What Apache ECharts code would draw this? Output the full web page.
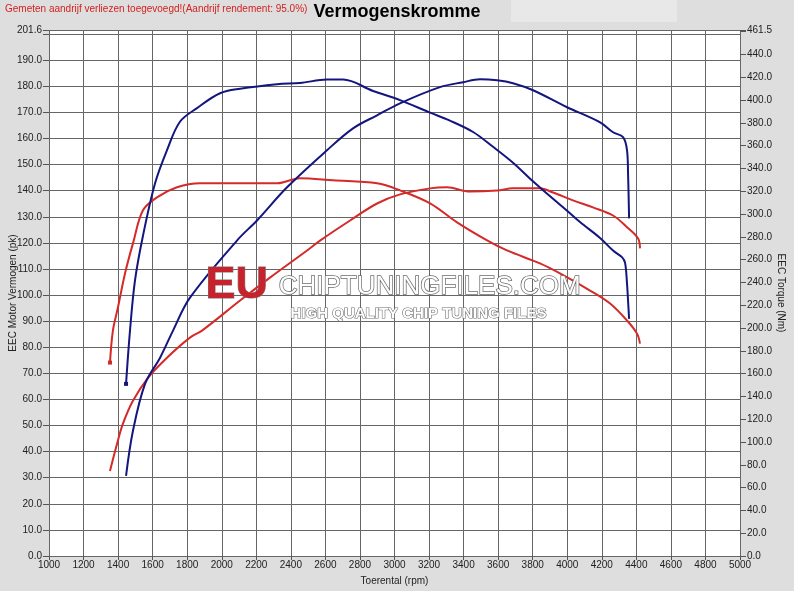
<!DOCTYPE html>
<html>
<head>
<meta charset="utf-8">
<title>Vermogenskromme</title>
<script src="https://cdn.jsdelivr.net/npm/echarts@6/dist/echarts.min.js"></script>
<style>
  html, body { margin: 0; padding: 0; background: #dedede; }
  #chart { width: 794px; height: 591px; }
</style>
</head>
<body>
<div id="chart"></div>
<script>
// rpm / waarde
var tunedPowerRpm = [1446, 1486, 1556, 1643, 1718, 1816, 2088, 2204, 2378, 2609, 2760, 2899, 3032, 3263, 3397, 3495, 3594, 3686, 3802, 3999, 4190, 4265, 4323, 4346, 4352, 4358];
var tunedPower    = [30.7, 48.0, 66.0, 76.0, 86.4, 99.0, 120.9, 128.6, 141.3, 155.5, 163.9, 168.9, 173.5, 179.7, 181.6, 182.7, 182.3, 181.2, 178.5, 172.0, 166.2, 162.4, 160.5, 155.5, 146.6, 129.4];

var tunedTorqueRpm = [1446, 1469, 1498, 1544, 1614, 1683, 1758, 1857, 1990, 2106, 2320, 2453, 2609, 2702, 2876, 3032, 3206, 3321, 3455, 3570, 3686, 3785, 3860, 3999, 4074, 4190, 4265, 4318, 4335, 4346, 4352, 4358];
var tunedTorque    = [151, 198, 242, 281, 327, 356, 381, 393, 406, 410, 414, 415, 418, 418, 408, 400, 389, 382, 372, 359, 345, 331, 321, 303, 293, 279, 268, 262, 257, 239, 224, 208];

var stockPowerRpm = [1353, 1394, 1428, 1486, 1573, 1683, 1816, 1886, 2106, 2279, 2494, 2569, 2743, 2899, 3032, 3206, 3304, 3437, 3594, 3686, 3842, 3918, 4033, 4149, 4265, 4346, 4410, 4421];
var stockPower    = [32.6, 43.0, 50.7, 59.5, 68.3, 76.0, 83.7, 86.4, 97.9, 106.7, 117.1, 120.9, 128.6, 135.1, 138.6, 140.9, 141.3, 139.7, 140.1, 140.9, 140.9, 139.3, 136.3, 133.6, 130.5, 126.0, 121.7, 117.9];

var stockTorqueRpm = [1353, 1370, 1399, 1440, 1486, 1544, 1625, 1741, 1874, 2146, 2320, 2453, 2644, 2899, 3032, 3206, 3362, 3536, 3651, 3842, 3958, 4132, 4248, 4346, 4404, 4421];
var stockTorque    = [169.7, 197.8, 218.0, 247.9, 274.3, 303.3, 314.7, 323.5, 327.0, 327.0, 327.0, 331.4, 329.6, 327.0, 320.8, 309.4, 292.7, 276.9, 268.1, 256.7, 247.9, 232.9, 221.5, 206.6, 195.1, 186.4];

var rpmMin = 1000, rpmMax = 5000, rpmStep = 200;
var pkMax = 201.6, pkStep = 10;
var nmMax = 461.5, nmStep = 20;

// eerste meetpunt krijgt een klein vierkantje
function pairs(xs, ys, markFirst) {
  var out = [];
  for (var i = 0; i < xs.length; i++) {
    if (i === 0 && markFirst) {
      out.push({ value: [xs[i], ys[i]], symbol: 'rect', symbolSize: 4 });
    } else {
      out.push([xs[i], ys[i]]);
    }
  }
  return out;
}

var blue = '#14167e';
var red = '#d42a28';

var chart = echarts.init(document.getElementById('chart'));

var option = {
  backgroundColor: '#dedede',
  animation: false,
  textStyle: { fontFamily: 'Liberation Sans, Arial, sans-serif' },
  graphic: [
    { type: 'rect', left: 511, top: 0, shape: { width: 166, height: 22 }, style: { fill: '#e8e8e8' }, z: 0 },
    { type: 'text', left: 5, top: 4, style: { text: 'Gemeten aandrijf verliezen toegevoegd!(Aandrijf rendement: 95.0%)', fill: '#d42020', font: '10px Liberation Sans, Arial' } },
    { type: 'text', left: 'center', top: 3, style: { text: 'Vermogenskromme', fill: '#000', font: 'bold 18px Liberation Sans, Arial' } },
    // watermerk
    { type: 'text', left: 205, top: 263, z: 50, style: { text: 'EU', fill: '#c8232c', stroke: '#7a7a7a', lineWidth: 1, font: 'bold 45px Liberation Sans, Arial', shadowBlur: 4, shadowColor: 'rgba(0,0,0,0.5)', shadowOffsetX: 1, shadowOffsetY: 1 } },
    { type: 'text', left: 278, top: 273, z: 50, style: { text: 'CHIPTUNINGFILES.COM', fill: '#ffffff', stroke: '#6e6e6e', lineWidth: 1.5, font: '26px Liberation Sans Narrow, Liberation Sans, Arial', shadowBlur: 3, shadowColor: 'rgba(0,0,0,0.4)' } },
    { type: 'text', left: 290, top: 306, z: 50, style: { text: 'HIGH QUALITY CHIP TUNING FILES', fill: '#ffffff', stroke: '#6e6e6e', lineWidth: 1.2, font: 'bold 15px Liberation Sans Narrow, Liberation Sans, Arial', shadowBlur: 3, shadowColor: 'rgba(0,0,0,0.4)' } }
  ],
  grid: {
    left: 49, right: 54, top: 30, bottom: 35,
    containLabel: false, outerBoundsMode: 'none',
    show: true, backgroundColor: '#ffffff', borderWidth: 0
  },
  xAxis: {
    type: 'value',
    min: rpmMin, max: rpmMax, interval: rpmStep,
    name: 'Toerental (rpm)', nameLocation: 'middle', nameGap: 20, nameMoveOverlap: false,
    nameTextStyle: { color: '#222', fontSize: 10 },
    axisLine: { show: false },
    axisTick: { show: true, length: 4, lineStyle: { color: '#555' } },
    axisLabel: { color: '#222', fontSize: 10, margin: 4, formatter: function (v) { return String(v); } },
    splitLine: { show: true, lineStyle: { color: '#666', width: 1 } }
  },
  yAxis: [
    {
      type: 'value', position: 'left',
      min: 0, max: pkMax, interval: pkStep,
      name: 'EEC Motor Vermogen (pk)', nameLocation: 'middle', nameGap: 31, nameMoveOverlap: false,
      nameTextStyle: { color: '#222', fontSize: 10 },
      axisLine: { show: false },
      axisTick: { show: true, length: 6, lineStyle: { color: '#555' } },
      axisLabel: {
        color: '#222', fontSize: 10, margin: 7,
        formatter: function (v) { return v === 200 ? '' : v.toFixed(1); }
      },
      splitLine: { show: true, lineStyle: { color: '#666', width: 1 } }
    },
    {
      type: 'value', position: 'right',
      min: 0, max: nmMax, interval: nmStep,
      name: 'EEC Torque (Nm)', nameLocation: 'middle', nameGap: 36, nameRotate: -90, nameMoveOverlap: false,
      nameTextStyle: { color: '#222', fontSize: 10 },
      axisLine: { show: false },
      axisTick: { show: true, length: 6, lineStyle: { color: '#555' } },
      axisLabel: {
        color: '#222', fontSize: 10, margin: 7,
        formatter: function (v) { return v === 460 ? '' : v.toFixed(1); }
      },
      splitLine: { show: false }
    }
  ],
  series: [
    {
      name: 'Vermogen (tuned)', type: 'line', yAxisIndex: 0,
      data: pairs(tunedPowerRpm, tunedPower, false),
      smooth: 0.35, showSymbol: false,
      lineStyle: { color: blue, width: 2 }, z: 3
    },
    {
      name: 'Koppel (tuned)', type: 'line', yAxisIndex: 1,
      data: pairs(tunedTorqueRpm, tunedTorque, true),
      smooth: 0.35, symbol: 'none', showAllSymbol: true,
      itemStyle: { color: blue },
      lineStyle: { color: blue, width: 2 }, z: 3
    },
    {
      name: 'Vermogen (origineel)', type: 'line', yAxisIndex: 0,
      data: pairs(stockPowerRpm, stockPower, false),
      smooth: 0.35, showSymbol: false,
      lineStyle: { color: red, width: 2 }, z: 2
    },
    {
      name: 'Koppel (origineel)', type: 'line', yAxisIndex: 1,
      data: pairs(stockTorqueRpm, stockTorque, true),
      smooth: 0.35, symbol: 'none', showAllSymbol: true,
      itemStyle: { color: red },
      lineStyle: { color: red, width: 2 }, z: 2
    }
  ]
};

option && chart.setOption(option);
</script>
</body>
</html>
